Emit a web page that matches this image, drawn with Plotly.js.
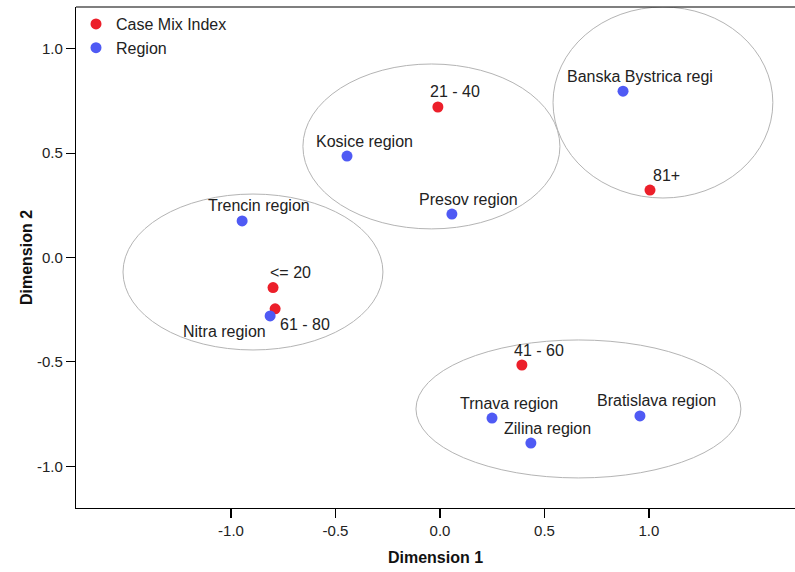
<!DOCTYPE html>
<html>
<head>
<meta charset="utf-8">
<script src="https://cdn.plot.ly/plotly-3.0.1.min.js"></script>
<style>
  html, body { margin: 0; padding: 0; background: #ffffff; overflow: hidden; }
  #chart { width: 795px; height: 572px; }
</style>
</head>
<body>
<div id="chart"></div>
<script>
// ---- Data ----
const cmiLabels = ['<= 20', '21 - 40', '41 - 60', '61 - 80', '81+'];
const cmiX = [-0.799, -0.010, 0.392, -0.789, 1.005];
const cmiY = [-0.144, 0.721, -0.515, -0.246, 0.323];

const regionLabels = ['Banska Bystrica regi', 'Kosice region', 'Presov region', 'Trencin region',
                      'Nitra region', 'Trnava region', 'Zilina region', 'Bratislava region'];
const regionX = [0.876, -0.445, 0.057, -0.947, -0.813, 0.249, 0.435, 0.957];
const regionY = [0.797, 0.486, 0.208, 0.175, -0.280, -0.769, -0.889, -0.759];

// cluster ellipses (extent in dimension units)
const clusterX0 = [-1.517, -0.656, 0.541, -0.115];
const clusterX1 = [-0.273, 0.574, 1.593, 1.440];
const clusterY0 = [-0.443, 0.137, 0.285, -1.056];
const clusterY1 = [0.304, 0.927, 1.200, -0.395];

const xTickVals = [-1.0, -0.5, 0.0, 0.5, 1.0];
const xTickText = ['-1.0', '-0.5', '0.0', '0.5', '1.0'];
const yTickVals = [-1.0, -0.5, 0.0, 0.5, 1.0];
const yTickText = ['-1.0', '-0.5', '0.0', '0.5', '1.0'];

// ---- Styles ----
const FONT = 'Liberation Sans, Arial, sans-serif';
const RED = '#ec1f2a';
const BLUE = '#4f5af4';

// label offsets (pixels) – default: centred above-right of the point
const labelShift = {
  '61 - 80': [30, -16],
  'Nitra region': [-46, -16]
};
const defaultShift = [17, 15];

const traces = [
  {
    type: 'scatter', mode: 'markers', name: 'Case Mix Index',
    x: cmiX, y: cmiY, text: cmiLabels,
    marker: { color: RED, size: 11, line: { width: 0 } },
    hoverinfo: 'text'
  },
  {
    type: 'scatter', mode: 'markers', name: 'Region',
    x: regionX, y: regionY, text: regionLabels,
    marker: { color: BLUE, size: 11, line: { width: 0 } },
    hoverinfo: 'text'
  }
];

const annotations = [];
function addLabels(labels, xs, ys) {
  labels.forEach((t, i) => {
    const s = labelShift[t] || defaultShift;
    annotations.push({
      x: xs[i], y: ys[i], xref: 'x', yref: 'y', text: t, showarrow: false,
      xanchor: 'center', yanchor: 'middle', xshift: s[0], yshift: s[1],
      font: { family: FONT, size: 16, color: '#222222' }
    });
  });
}
addLabels(cmiLabels, cmiX, cmiY);
addLabels(regionLabels, regionX, regionY);

const shapes = clusterX0.map((x0, i) => ({
  type: 'circle', xref: 'x', yref: 'y', layer: 'below',
  x0: x0, x1: clusterX1[i], y0: clusterY0[i], y1: clusterY1[i],
  line: { color: '#b4b4b4', width: 1 }
}));
// top frame line
shapes.push({
  type: 'line', xref: 'paper', yref: 'paper', x0: 0, x1: 1, y0: 1, y1: 1,
  line: { color: '#000000', width: 1.2 }
});

const layout = {
  width: 795, height: 572,
  margin: { l: 76, r: 0, t: 7, b: 64 },
  paper_bgcolor: '#ffffff', plot_bgcolor: '#ffffff',
  font: { family: FONT, color: '#222222' },
  showlegend: true,
  legend: {
    x: 0, y: 1, xanchor: 'left', yanchor: 'top',
    font: { family: FONT, size: 16, color: '#222222' },
    bgcolor: 'rgba(0,0,0,0)', borderwidth: 0,
    itemwidth: 30, tracegroupgap: 0
  },
  xaxis: {
    range: [-1.742, 1.699], showgrid: false, zeroline: false,
    showline: true, linecolor: '#000000', linewidth: 1.2,
    ticks: 'outside', ticklen: 9, tickcolor: '#000000', tickwidth: 1.2,
    tickvals: xTickVals, ticktext: xTickText,
    tickfont: { family: FONT, size: 15, color: '#222222' },
    title: { text: '<b>Dimension 1</b>', font: { family: FONT, size: 16, color: '#111111' }, standoff: 13 }
  },
  yaxis: {
    range: [-1.2, 1.2], showgrid: false, zeroline: false,
    showline: true, linecolor: '#000000', linewidth: 1.2,
    ticks: 'outside', ticklen: 9, tickcolor: '#000000', tickwidth: 1.2,
    tickvals: yTickVals, ticktext: yTickText,
    tickfont: { family: FONT, size: 15, color: '#222222' },
    title: { text: '<b>Dimension 2</b>', font: { family: FONT, size: 16, color: '#111111' }, standoff: 0 }
  },
  shapes: shapes,
  annotations: annotations
};

Plotly.newPlot('chart', traces, layout, { displayModeBar: false, staticPlot: true });
</script>
</body>
</html>
